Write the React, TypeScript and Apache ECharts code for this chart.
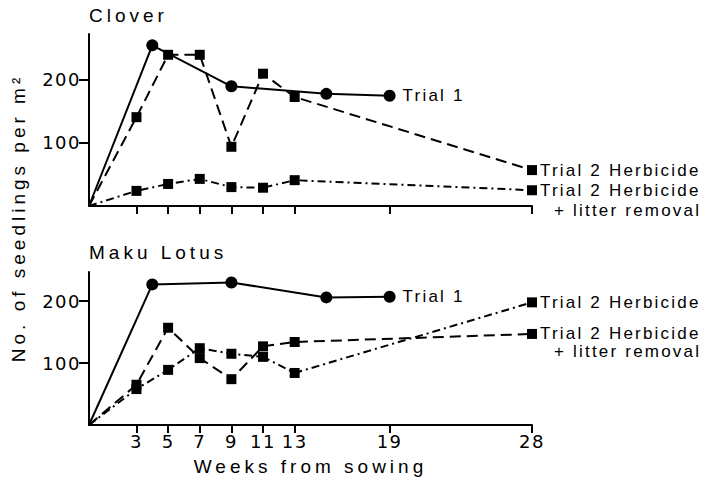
import { useEffect, useRef } from "react";
import * as echarts from "echarts";

const FONT = '"Liberation Sans", Arial, Helvetica, sans-serif';
const TICK_FONT = '"DejaVu Sans", "Liberation Sans", sans-serif';

const panelTitles = ["Clover", "Maku Lotus"];
const yTitle = "No. of seedlings per m²";
const xTitle = "Weeks from sowing";
const xTicks = [3, 5, 7, 9, 11, 13, 19, 28];
const yTicks = [100, 200];
const yMax = [273, 247];

const trial1Weeks = [0, 4, 9, 15, 19];
const trial2Weeks = [0, 3, 5, 7, 9, 11, 13, 28];

const cloverTrial1 = [0, 255, 190, 178, 175];
const cloverHerbicide = [0, 141, 240, 240, 94, 210, 173, 57];
const cloverLitter = [0, 24, 35, 43, 30, 29, 41, 25];

const lotusTrial1 = [0, 227, 230, 206, 207];
const lotusDashed = [0, 65, 157, 108, 74, 127, 134, 147];
const lotusDashDot = [0, 58, 89, 124, 115, 110, 84, 198];

const labelTrial1 = "Trial 1";
const labelHerb = "Trial 2 Herbicide";
const labelLitter = "+ litter removal";

// series labels 17px, tick labels 18px, titles 19px (letter spacing set per size below)
const txt = { color: "#000", fontSize: 17, fontFamily: FONT };
const tickTxt = { color: "#000", fontSize: 18, fontFamily: TICK_FONT };
const axTxt = { color: "#000", fontSize: 19, fontFamily: FONT };

const CSS = `
.seedchart text { letter-spacing: 2.2px; }
.seedchart text[style*="18px"] { letter-spacing: 1.5px; }
.seedchart text[style*="19px"] { letter-spacing: 4px; }
`;

function pts(weeks: number[], vals: number[]) {
  return weeks.map((w, i) => {
    const item: any = { value: [w, vals[i]] };
    if (i === 0) item.symbol = "none";
    return item;
  });
}

function oneLine(text: string, distance: number) {
  return { show: true, distance, formatter: text, ...txt };
}

function twoLine(lh: number) {
  return {
    show: true,
    distance: 8,
    lineHeight: lh,
    verticalAlign: "middle",
    formatter: `{a| }\n{a|${labelHerb}}\n{b|${labelLitter}}`,
    ...txt,
    rich: {
      a: { ...txt, lineHeight: lh },
      b: { ...txt, lineHeight: lh, padding: [0, 0, 0, 14] },
    },
  };
}

const DASHED = [11, 6];
const DASHDOT = [8, 4, 2, 4];

function lineSeries(
  gi: number,
  weeks: number[],
  vals: number[],
  symbol: string,
  size: number,
  type: any,
  endLabel: any
) {
  return {
    type: "line",
    xAxisIndex: gi,
    yAxisIndex: gi,
    data: pts(weeks, vals),
    symbol,
    symbolSize: size,
    showAllSymbol: true,
    itemStyle: { color: "#000" },
    lineStyle: { color: "#000", width: 2, type },
    endLabel,
    emphasis: { disabled: true },
  };
}

export default function App() {
  const ref = useRef<HTMLDivElement>(null);
  useEffect(() => {
    if (!ref.current) return;
    const chart = echarts.init(ref.current, undefined, { renderer: "svg" });
    const axisLineStyle = { color: "#000", width: 2 };
    chart.setOption({
      animation: false,
      backgroundColor: "#fff",
      grid: [
        { left: 89, top: 34, width: 443, height: 172 },
        { left: 89, top: 272, width: 443, height: 153 },
      ],
      xAxis: [0, 1].map((i) => ({
        type: "value",
        gridIndex: i,
        min: 0,
        max: 28,
        axisLine: { show: true, lineStyle: axisLineStyle },
        axisTick: { show: true, customValues: xTicks, length: 8, lineStyle: axisLineStyle },
        axisLabel: { show: i === 1, customValues: xTicks, margin: 7, ...tickTxt },
        splitLine: { show: false },
        name: i === 1 ? xTitle : "",
        nameLocation: "middle",
        nameGap: 32,
        nameTextStyle: { ...axTxt },
      })),
      yAxis: [0, 1].map((i) => ({
        type: "value",
        gridIndex: i,
        min: 0,
        max: yMax[i],
        axisLine: { show: true, lineStyle: axisLineStyle },
        axisTick: { show: true, customValues: yTicks, length: 10, lineStyle: axisLineStyle },
        axisLabel: { customValues: yTicks, margin: 8, ...tickTxt },
        splitLine: { show: false },
      })),
      graphic: [
        {
          type: "text",
          left: 89,
          top: 6,
          style: { text: panelTitles[0], fill: "#000", fontSize: 19, fontFamily: FONT },
        },
        {
          type: "text",
          left: 89,
          top: 243,
          style: { text: panelTitles[1], fill: "#000", fontSize: 19, fontFamily: FONT },
        },
        {
          type: "text",
          x: 18,
          y: 218,
          rotation: Math.PI / 2,
          style: {
            text: yTitle,
            fill: "#000",
            fontSize: 19,
            fontFamily: FONT,
            align: "center",
            verticalAlign: "middle",
          },
        },
      ],
      series: [
        lineSeries(0, trial1Weeks, cloverTrial1, "circle", 12, "solid", oneLine(labelTrial1, 13)),
        lineSeries(0, trial2Weeks, cloverHerbicide, "rect", 10, DASHED, oneLine(labelHerb, 8)),
        lineSeries(0, trial2Weeks, cloverLitter, "rect", 10, DASHDOT, twoLine(20)),
        lineSeries(1, trial1Weeks, lotusTrial1, "circle", 12, "solid", oneLine(labelTrial1, 13)),
        lineSeries(1, trial2Weeks, lotusDashDot, "rect", 10, DASHDOT, oneLine(labelHerb, 8)),
        lineSeries(1, trial2Weeks, lotusDashed, "rect", 10, DASHED, twoLine(18)),
      ],
    });
    return () => chart.dispose();
  }, []);
  return (
    <>
      <style>{CSS}</style>
      <div
        ref={ref}
        className="seedchart"
        style={{
          position: "fixed",
          left: 0,
          top: 0,
          width: 713,
          height: 488,
          background: "#fff",
          letterSpacing: "2.2px",
        }}
      />
    </>
  );
}
